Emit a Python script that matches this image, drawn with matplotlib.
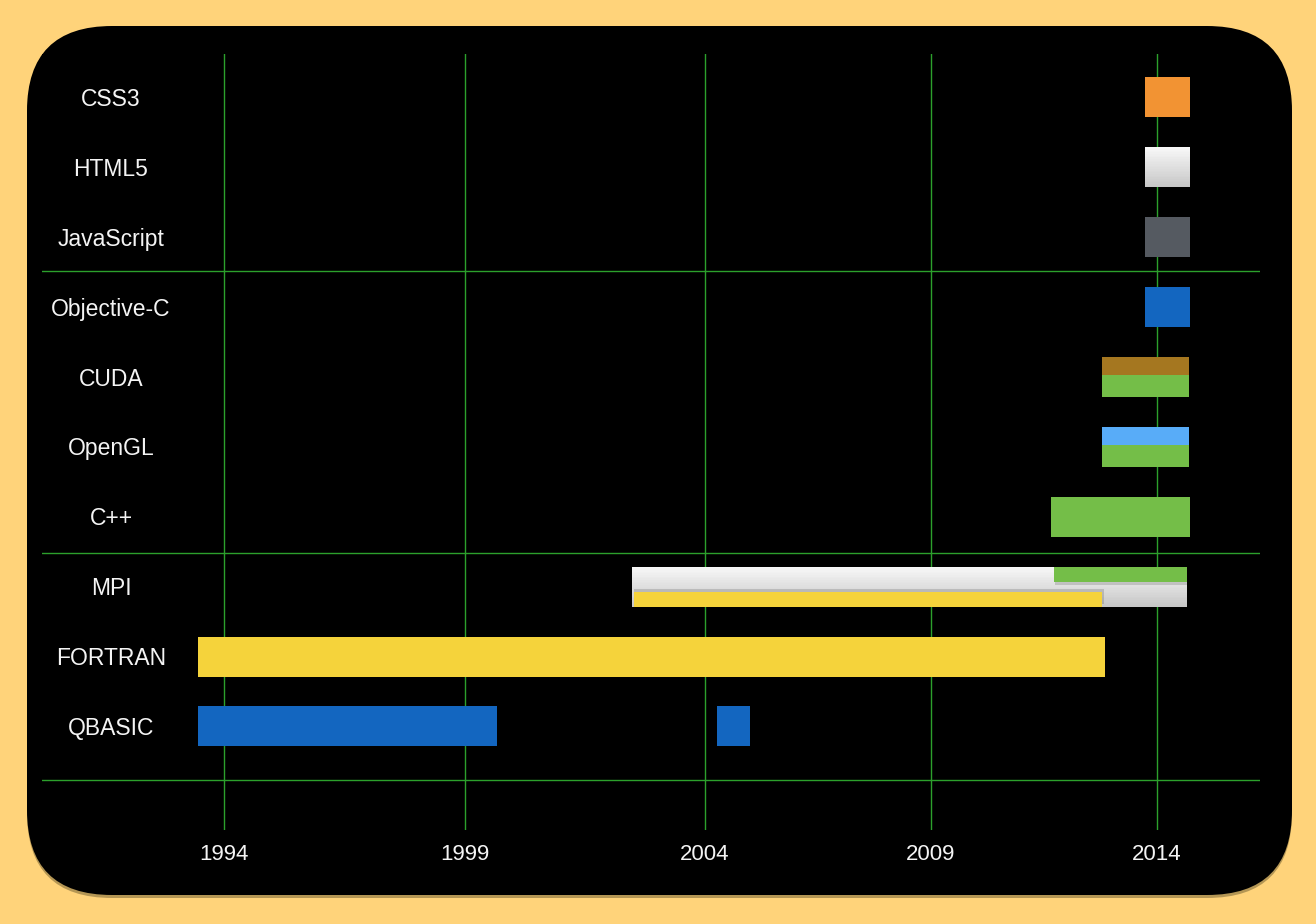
import numpy as np
import matplotlib
matplotlib.use('Agg')
import matplotlib.pyplot as plt
from matplotlib.patches import FancyBboxPatch
from matplotlib.transforms import IdentityTransform, blended_transform_factory
from matplotlib.colors import to_rgb

### data
langs = ['CSS3', 'HTML5', 'JavaScript', 'Objective-C', 'CUDA', 'OpenGL', 'C++', 'MPI', 'FORTRAN', 'QBASIC']
start = [2013.73, 2013.73, 2013.73, 2013.73, 2012.78, 2012.78, 2011.65, 2002.48, 1993.45, 1993.45]
end = [2014.73, 2014.73, 2014.73, 2014.73, 2014.71, 2014.71, 2014.73, 2014.66, 2012.85, 1999.67]
bar_colors = ['#F29333', 'gradient', '#555A61', '#1366C0', '#74BE48', '#74BE48', '#74BE48', 'gradient', '#F5D33B', '#1366C0']

# second QBASIC stint
extra_lang = 'QBASIC'
extra_start = 2004.27
extra_end = 2005.0

# split rows: top part / bottom part
top_lang = ['CUDA', 'OpenGL', 'MPI']
top_start = [2012.78, 2012.78, 2011.72]
top_end = [2014.71, 2014.71, 2014.66]
top_colors = ['#A57720', '#58ACF8', '#74BE48']
mpi_low_start = 2002.52
mpi_low_end = 2012.78

tick_years = [1994, 1999, 2004, 2009, 2014]
separators = [2.48, 6.52, 9.765]

### x scale (gridlines are not evenly spaced on the original)
knot_years = [1980, 1994, 1999, 2004, 2009, 2014, 2030]
knot_px = [-450.8, 224, 465, 705, 931, 1157, 1880.2]

def fwd(x):
    return np.interp(x, knot_years, knot_px)

def inv(x):
    return np.interp(x, knot_px, knot_years)

bg = '#FFD37A'
green = '#2CA02C'
txt = '#F4F4F4'
W, H = 1316, 924

fig = plt.figure(figsize=(W / 100, H / 100), dpi=100, facecolor=bg)

### black rounded panel with a little shadow
shadow = FancyBboxPatch((27, 26), 1265, 869, boxstyle='round,pad=0,rounding_size=85',
                        transform=IdentityTransform(), fc='#6b5a30', ec='none', alpha=0.5, zorder=-3)
panel = FancyBboxPatch((27, 29), 1265, 869, boxstyle='round,pad=0,rounding_size=85',
                       transform=IdentityTransform(), fc='black', ec='none', zorder=-2)
fig.add_artist(shadow)
fig.add_artist(panel)

ax = fig.add_axes([42 / W, (H - 830) / H, (1260 - 42) / W, (830 - 54) / H])
ax.set_facecolor('black')
ax.set_xscale('function', functions=(fwd, inv))
ax.set_xlim(1990.22, 2016.28)
ax.set_ylim(10.481, -0.621)
for s in ax.spines.values():
    s.set_visible(False)

ax.set_xticks(tick_years)
ax.set_xticklabels([str(y) for y in tick_years])
ax.tick_params(axis='x', length=0, pad=10, labelcolor=txt, labelsize=16)
ax.set_yticks([])
for lab in ax.get_xticklabels():
    lab.set_family('Liberation Sans')
ax.grid(axis='x', color=green, lw=1.0)
ax.set_axisbelow(True)
for s in separators:
    ax.axhline(s, color=green, lw=1.0, zorder=1)

h = 0.572
ypos = np.arange(len(langs))

def gradient_bar(y, x0, x1, c_top='#F8F8F8', c_bot='#C6C6C6', n=24):
    a = np.array(to_rgb(c_top))
    b = np.array(to_rgb(c_bot))
    edges = np.linspace(y - h / 2, y + h / 2, n + 1)
    for k in range(n):
        c = a + (b - a) * (k + 0.5) / n
        ax.barh((edges[k] + edges[k + 1]) / 2, x1 - x0, left=x0, height=h / n * 1.02,
                color=c, lw=0, zorder=3)

label_tr = blended_transform_factory(ax.transAxes, ax.transData)
for i, (lang, s0, s1, c) in enumerate(zip(langs, start, end, bar_colors)):
    if c == 'gradient':
        gradient_bar(ypos[i], s0, s1)
    else:
        ax.barh(ypos[i], s1 - s0, left=s0, height=h, color=c, lw=0, zorder=3)
    ax.text((111 - 42) / 1218, ypos[i] + 0.03, lang, transform=label_tr,
            ha='center', va='center', color=txt, fontsize=16.5, family='Liberation Sans')

qi = langs.index(extra_lang)
ax.barh(qi, extra_end - extra_start, left=extra_start, height=h, color='#1366C0', lw=0, zorder=3)

# split rows
top_h = [0.258, 0.258, 0.215]
for lang, s0, s1, c, th in zip(top_lang, top_start, top_end, top_colors, top_h):
    yi = langs.index(lang)
    yc = yi - h / 2 + th / 2
    if lang == 'MPI':
        ax.barh(yc + 0.05, s1 - s0, left=s0 + 0.03, height=th, color='black', alpha=0.15, lw=0, zorder=4)
    ax.barh(yc, s1 - s0, left=s0, height=th, color=c, lw=0, zorder=5)

mi = langs.index('MPI')
low_h = 0.215
yc = mi + h / 2 - low_h / 2
ax.barh(yc - 0.035, mpi_low_end - mpi_low_start + 0.05, left=mpi_low_start, height=low_h,
        color='black', alpha=0.15, lw=0, zorder=4)
ax.barh(yc, mpi_low_end - mpi_low_start, left=mpi_low_start, height=low_h, color='#F5D33B', lw=0, zorder=5)

plt.savefig('out.png', dpi=100, facecolor=bg)
